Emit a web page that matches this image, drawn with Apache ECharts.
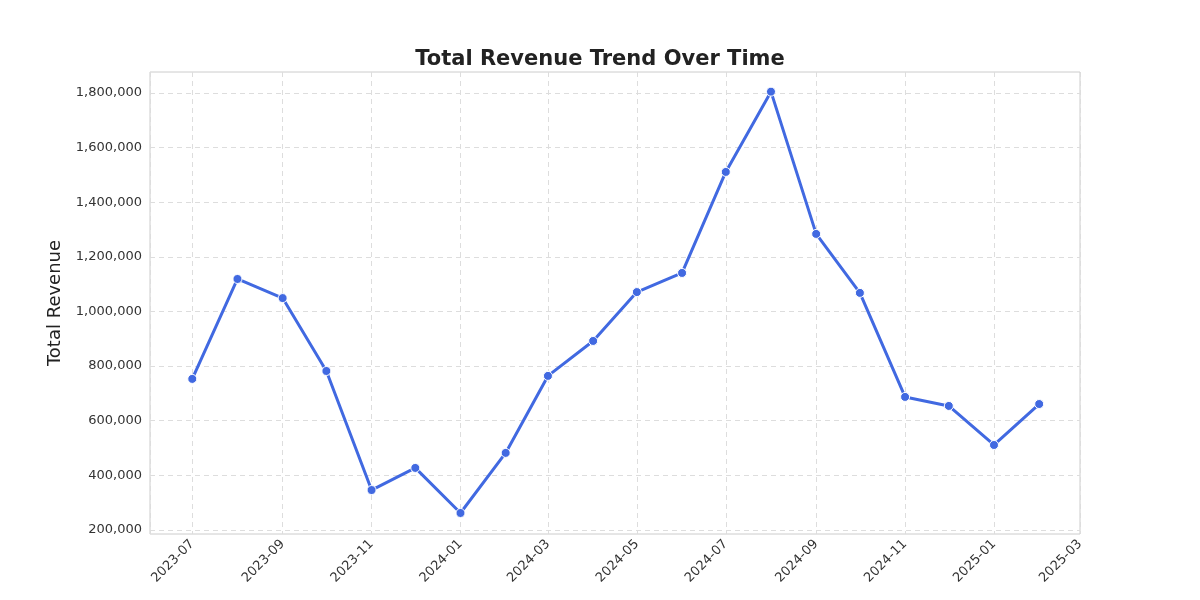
<!DOCTYPE html>
<html>
<head>
<meta charset="utf-8">
<script src="https://cdn.jsdelivr.net/npm/echarts@6/dist/echarts.min.js"></script>
<style>html,body{margin:0;padding:0;background:#fff}#chart{width:1200px;height:600px}</style>
</head>
<body>
<div id="chart"></div>
<script>
// monthly revenue
var months = ['2023-07-01', '2023-08-01', '2023-09-01', '2023-10-01', '2023-11-01', '2023-12-01',
  '2024-01-01', '2024-02-01', '2024-03-01', '2024-04-01', '2024-05-01', '2024-06-01',
  '2024-07-01', '2024-08-01', '2024-09-01', '2024-10-01', '2024-11-01', '2024-12-01',
  '2025-01-01', '2025-02-01'];
var revenue = [753000, 1119000, 1049000, 782000, 346000, 427000,
  262000, 482000, 764000, 892000, 1071000, 1141000,
  1511000, 1805000, 1284000, 1068000, 687000, 654000,
  511000, 661000];
var yTicks = [200000, 400000, 600000, 800000, 1000000, 1200000, 1400000, 1600000, 1800000];

var chart = echarts.init(document.getElementById('chart'));
var seriesData = [];
for (var i = 0; i < months.length; i++) {
  seriesData.push([months[i], revenue[i]]);
}

var option = {
  title: {
    text: 'Total Revenue Trend Over Time',
    left: 'center',
    top: 44,
    textStyle: { fontFamily: 'DejaVu Sans', fontSize: 21, fontWeight: 'bold', color: '#222' }
  },
  grid: {
    left: 150, right: 120, top: 72, bottom: 66,
    show: true, borderColor: '#cccccc', borderWidth: 1
  },
  xAxis: {
    type: 'time',
    min: '2023-06-02',
    max: '2025-03-01',
    minInterval: 50 * 86400000,
    maxInterval: 70 * 86400000,
    axisLine: { show: false },
    axisTick: { show: false },
    axisLabel: {
      formatter: '{yyyy}-{MM}',
      rotate: 45,
      fontFamily: 'DejaVu Sans',
      fontSize: 13,
      color: '#333',
      hideOverlap: false,
      showMinLabel: false
    },
    splitLine: { show: true, lineStyle: { color: '#dddddd', type: [5, 4] } }
  },
  yAxis: {
    type: 'value',
    min: 185000,
    max: 1877000,
    name: 'Total Revenue',
    nameLocation: 'middle',
    nameGap: 86,
    nameTextStyle: { fontFamily: 'DejaVu Sans', fontSize: 18, color: '#222' },
    axisLine: { show: false },
    axisTick: { show: false, customValues: yTicks },
    axisLabel: { customValues: yTicks, fontFamily: 'DejaVu Sans', fontSize: 13, color: '#333' },
    splitLine: { show: true, lineStyle: { color: '#dddddd', type: [5, 4] } }
  },
  series: [{
    type: 'line',
    data: seriesData,
    symbol: 'circle',
    symbolSize: 9,
    lineStyle: { color: '#4169e1', width: 3 },
    itemStyle: { color: '#4169e1', borderColor: '#fff', borderWidth: 1 },
    animation: false
  }]
};
chart.setOption(option);
</script>
</body>
</html>
